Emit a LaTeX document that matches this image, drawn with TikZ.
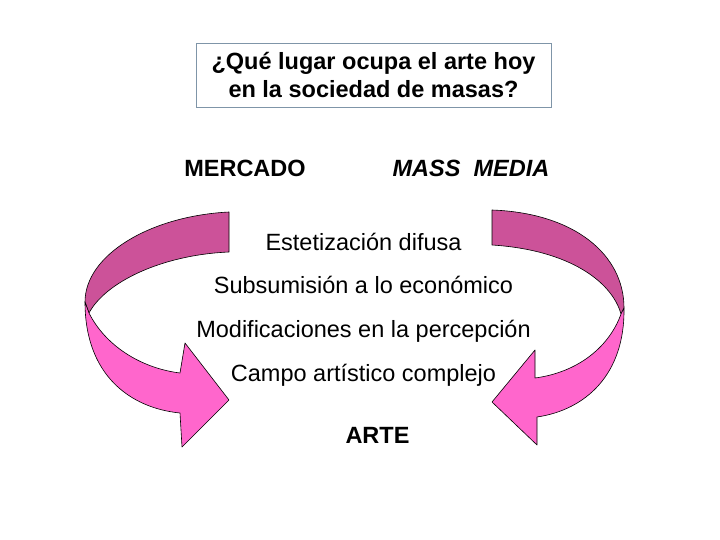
\documentclass[tikz,border=0pt]{standalone}
\usepackage{fontspec}
\setmainfont{Liberation Sans}
\usetikzlibrary{positioning}
\definecolor{fold_back}{HTML}{CC5299}
\definecolor{fold_front}{HTML}{FF66CC}
\definecolor{box_line}{HTML}{7F95A8}

\begin{document}
\begin{tikzpicture}[x=1pt, y=-1pt,
                    txt/.style={anchor=base, inner sep=0pt, font=\fontsize{23.5}{28}\selectfont},
                    item/.style={txt, text height=17pt, text depth=5pt},
                    ribbon/.style={draw=black, line width=0.6pt, line join=round},
                    qbox/.style={draw=box_line, line width=0.8pt, minimum width=355pt, minimum height=64pt,
                                 inner sep=0pt, align=center, font=\bfseries\fontsize{23.5}{28}\selectfont}]

  \useasboundingbox (0,0) rectangle (720,540);

  % Left curved arrow
  \fill[fold_back, ribbon] (229,212) .. controls (150,216) and (85,255) .. (85,302) -- (89,313)
        .. controls (105,283) and (160,255) .. (229,252) -- cycle;
  \fill[fold_front, ribbon] (85,302) .. controls (85,375) and (130,408) .. (180,413) -- (182,447)
        -- (229,400) -- (185,343) -- (180,373) .. controls (140,368) and (105,345) .. (89,313) -- cycle;

  % Right curved arrow
  \fill[fold_back, ribbon] (492,210) .. controls (575,213) and (624,255) .. (624,308) -- (621,314)
        .. controls (612,282) and (570,250) .. (492,245) -- cycle;
  \fill[fold_front, ribbon] (624,308) .. controls (625,375) and (585,410) .. (537,417) -- (537,445)
        -- (492,402) -- (535,350) -- (535,378) .. controls (580,372) and (610,345) .. (621,314) -- cycle;

  % Question
  \node[qbox] (question) at (373.5,75) {¿Qué lugar ocupa el arte hoy\\en la sociedad de masas?};

  % Two sides
  \node[txt, font=\bfseries\fontsize{23.5}{28}\selectfont] (mercado) at (245,177) {MERCADO};
  \node[txt, font=\bfseries\itshape\fontsize{23.5}{28}\selectfont] (media) at (471,177) {MASS\ \ MEDIA};

  % List in the middle
  \node[item] (t1) at (363.5,250) {Estetización difusa};
  \node[item] (t2) [below=21.5pt of t1] {Subsumisión a lo económico};
  \node[item] (t3) [below=21.5pt of t2] {Modificaciones en la percepción};
  \node[item] (t4) [below=21.5pt of t3] {Campo artístico complejo};

  \node[txt, font=\bfseries\fontsize{23.5}{28}\selectfont] (arte) at (377.5,443) {ARTE};

\end{tikzpicture}
\end{document}
